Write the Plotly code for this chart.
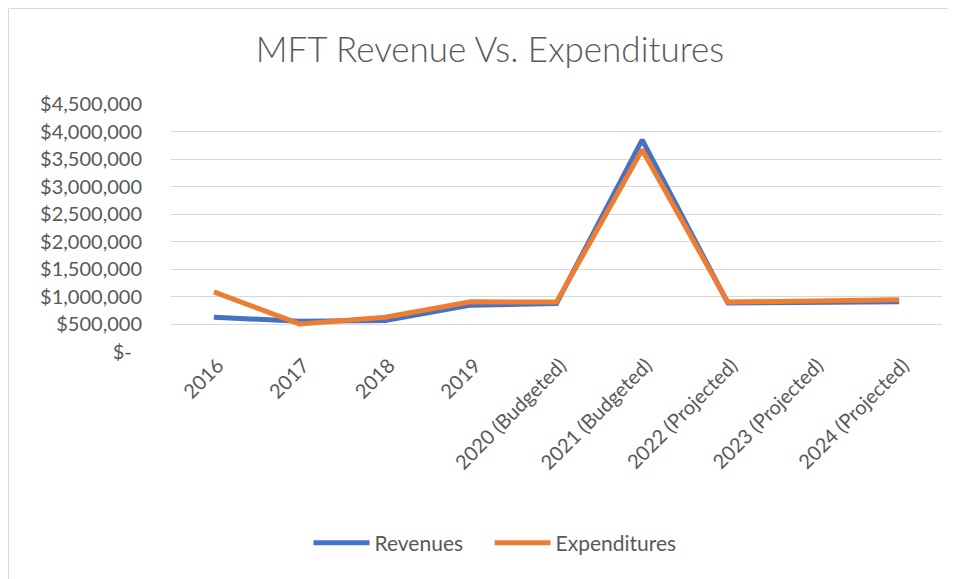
import plotly.graph_objects as go

categories = ["2016", "2017", "2018", "2019", "2020 (Budgeted)", "2021 (Budgeted)",
              "2022 (Projected)", "2023 (Projected)", "2024 (Projected)"]
revenues = [630000, 560000, 570000, 850000, 880000, 3850000, 890000, 900000, 910000]
expenditures = [1090000, 510000, 630000, 910000, 905000, 3670000, 905000, 930000, 950000]
series_names = ["Revenues", "Expenditures"]
ytick_vals = [0, 500000, 1000000, 1500000, 2000000, 2500000, 3000000, 3500000, 4000000, 4500000]
ytick_text = ["$-\u00a0\u00a0", "$500,000", "$1,000,000", "$1,500,000", "$2,000,000",
              "$2,500,000", "$3,000,000", "$3,500,000", "$4,000,000", "$4,500,000"]

OFF = 8  # page body margin
W, H = 956 - OFF, 579 - OFF
# target screen coordinates of the plot area
SL, SR, ST, SB = 171, 942, 104, 352
L, R, T, B = SL - OFF, SR - OFF, ST - OFF, SB - OFF
pw, ph = R - L, B - T

def px(x):
    return (x - OFF - L) / pw

def py(y):
    return (B - (y - OFF)) / ph

def fx(x):  # figure coords -> paper
    return (x - L) / pw

def fy(y):
    return (B - y) / ph

FONT = "Lato"
GREY = "#595959"
FS = 20
BORDER = "#D9D9D9"
GAP = "\u00a0" * 4

fig = go.Figure()
fig.add_trace(go.Scatter(x=categories, y=revenues, name=series_names[0] + GAP, mode="lines",
                         line=dict(color="#4472C4", width=5)))
fig.add_trace(go.Scatter(x=categories, y=expenditures, name=series_names[1], mode="lines",
                         line=dict(color="#ED7D31", width=5)))

fig.update_layout(
    width=W, height=H,
    margin=dict(l=L, r=W - R, t=T, b=H - B, pad=0),
    paper_bgcolor="white", plot_bgcolor="white",
    font=dict(family=FONT, color=GREY, size=FS),
    title=dict(text="MFT Revenue Vs. Expenditures", font=dict(family=FONT, size=35, color=GREY, weight=300),
               x=(490 - OFF) / W, xref="container", xanchor="center",
               y=1 - (50 - OFF) / H, yref="container", yanchor="middle"),
    showlegend=True,
    legend=dict(orientation="h", x=px(495), xanchor="center", y=py(543), yanchor="middle",
                font=dict(family=FONT, size=21, color=GREY), traceorder="normal",
                itemwidth=56),
    xaxis=dict(type="category", showgrid=False, zeroline=False, showline=False, ticks="",
               tickangle=-45, tickfont=dict(family=FONT, size=FS, color=GREY), range=[-0.5, 8.5],
               ticklabelshift=4, ticklabelstandoff=-3),
    yaxis=dict(range=[0, 4500000], tickvals=ytick_vals, ticktext=ytick_text, showgrid=True,
               gridcolor="#D9D9D9", gridwidth=1, zeroline=False, showline=False, ticks="",
               ticklabelstandoff=28, tickfont=dict(family=FONT, size=FS, color=GREY)),
    shapes=[
        dict(type="line", xref="paper", yref="paper", x0=fx(0.5), x1=fx(W), y0=fy(0.5), y1=fy(0.5),
             line=dict(color=BORDER, width=1), layer="below"),
        dict(type="line", xref="paper", yref="paper", x0=fx(0.5), x1=fx(0.5), y0=fy(H), y1=fy(0.5),
             line=dict(color=BORDER, width=1), layer="below"),
    ],
)

fig.write_html("out.html")
